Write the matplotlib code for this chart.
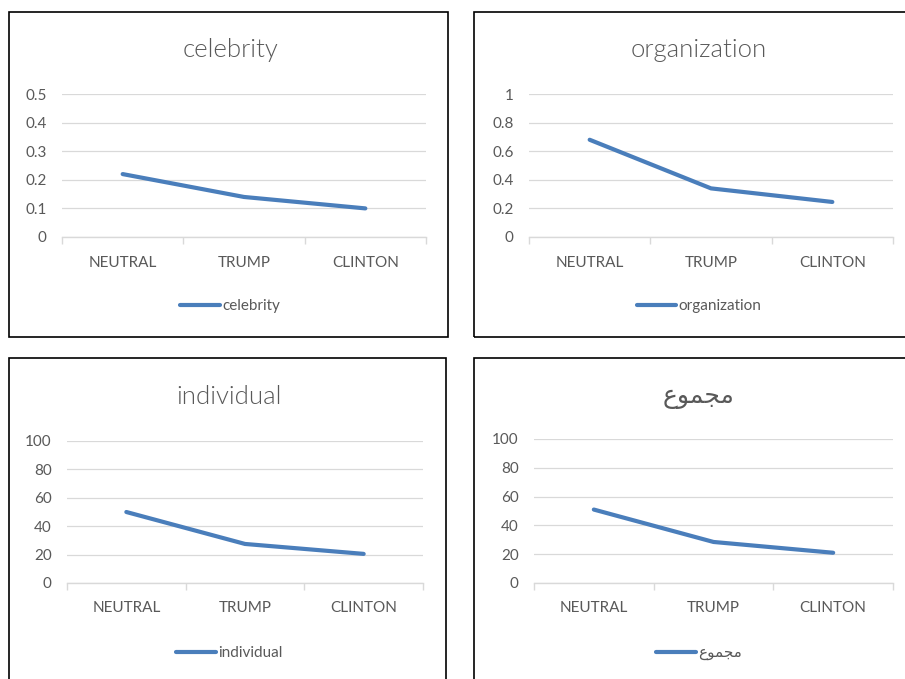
import numpy as np
import matplotlib
matplotlib.use("Agg")
import matplotlib.pyplot as plt
from matplotlib.patches import Rectangle
from matplotlib.ticker import FixedLocator, FuncFormatter

plt.rcParams['font.family'] = ['Lato', 'DejaVu Sans']

categories = ["NEUTRAL", "TRUMP", "CLINTON"]

celebrity = [0.22, 0.14, 0.10]
organization = [0.68, 0.34, 0.245]
individual = [50, 27.5, 20.5]
majmoo = [51, 28.5, 21]

# Arabic title, pre-shaped (presentation forms) so it joins up without a shaping engine
arabic_name = "\uFEC9\uFEEE\uFEE4\uFEA0\uFEE3"

panels = [
    ("celebrity", celebrity, [0, 0.1, 0.2, 0.3, 0.4, 0.5]),
    ("organization", organization, [0, 0.2, 0.4, 0.6, 0.8, 1]),
    ("individual", individual, [0, 20, 40, 60, 80, 100]),
    (arabic_name, majmoo, [0, 20, 40, 60, 80, 100]),
]

W, H = 905, 679
# pixel boxes: axes (l, t, r, b), frame (l, t, r, b), centre x of title/legend, title y, cats y, legend y
boxes = [
    ((62, 94, 426, 237), (9, 12, 448, 337), 230, 50, 263, 306),
    ((529, 94, 893, 237), (474, 12, 915, 337), 699, 50, 263, 306),
    ((67, 441, 423, 583), (9, 358, 446, 700), 229, 397, 608, 653),
    ((534, 439, 893, 583), (474, 358, 915, 700), 699, 397, 608, 653),
]

text_col = "#595959"
grid_col = "#D9D9D9"
line_col = "#4A7EBB"

fig = plt.figure(figsize=(W / 100, H / 100), dpi=100)

for (name, vals, yt), (ab, fb, cx, ty, cy, ly) in zip(panels, boxes):
    l, t, r, b = ab
    ax = fig.add_axes([l / W, 1 - b / H, (r - l) / W, (b - t) / H])
    x = np.arange(len(categories))
    ax.plot(x, vals, color=line_col, lw=3.0, solid_capstyle='round', label=name)
    ax.set_xlim(-0.5, len(categories) - 0.5)
    ax.set_ylim(yt[0], yt[-1])
    ax.yaxis.set_major_locator(FixedLocator(yt))
    ax.yaxis.set_major_formatter(FuncFormatter(lambda v, p: "%g" % v))
    ax.grid(axis='y', color=grid_col, lw=0.9)
    ax.set_axisbelow(True)
    for s in ['top', 'right', 'left']:
        ax.spines[s].set_visible(False)
    ax.spines['bottom'].set_color(grid_col)
    ax.spines['bottom'].set_linewidth(1.0)
    ax.set_xticks([])
    ax.set_xticks(np.arange(-0.5, len(categories)), minor=True)
    ax.tick_params(axis='x', which='minor', length=5, color=grid_col, width=1.0)
    ax.tick_params(axis='y', length=0, pad=11, labelsize=11, labelcolor=text_col)
    for i, c in enumerate(categories):
        px = l + (r - l) * (i + 0.5) / len(categories)
        fig.text(px / W, 1 - cy / H, c, ha='center', va='center',
                 fontsize=11, color=text_col)
    if name == arabic_name:
        fig.text(cx / W, 1 - ty / H, name, ha='center', va='center',
                 fontsize=18, family=['DejaVu Sans'], color=text_col)
    else:
        fig.text(cx / W, 1 - ty / H, name, ha='center', va='center',
                 fontsize=18.5, fontweight=300, color=text_col)
    ax.legend(loc='center', bbox_to_anchor=(cx / W, 1 - ly / H),
              bbox_transform=fig.transFigure, frameon=False, fontsize=11,
              handlelength=2.6, handletextpad=0.15, labelcolor=text_col)
    fl, ft, fr, fbm = fb
    fig.patches.append(Rectangle((fl / W, 1 - fbm / H), (fr - fl) / W, (fbm - ft) / H,
                                 transform=fig.transFigure, fill=False,
                                 edgecolor='black', lw=1.2))

fig.savefig("out.png", dpi=100)
